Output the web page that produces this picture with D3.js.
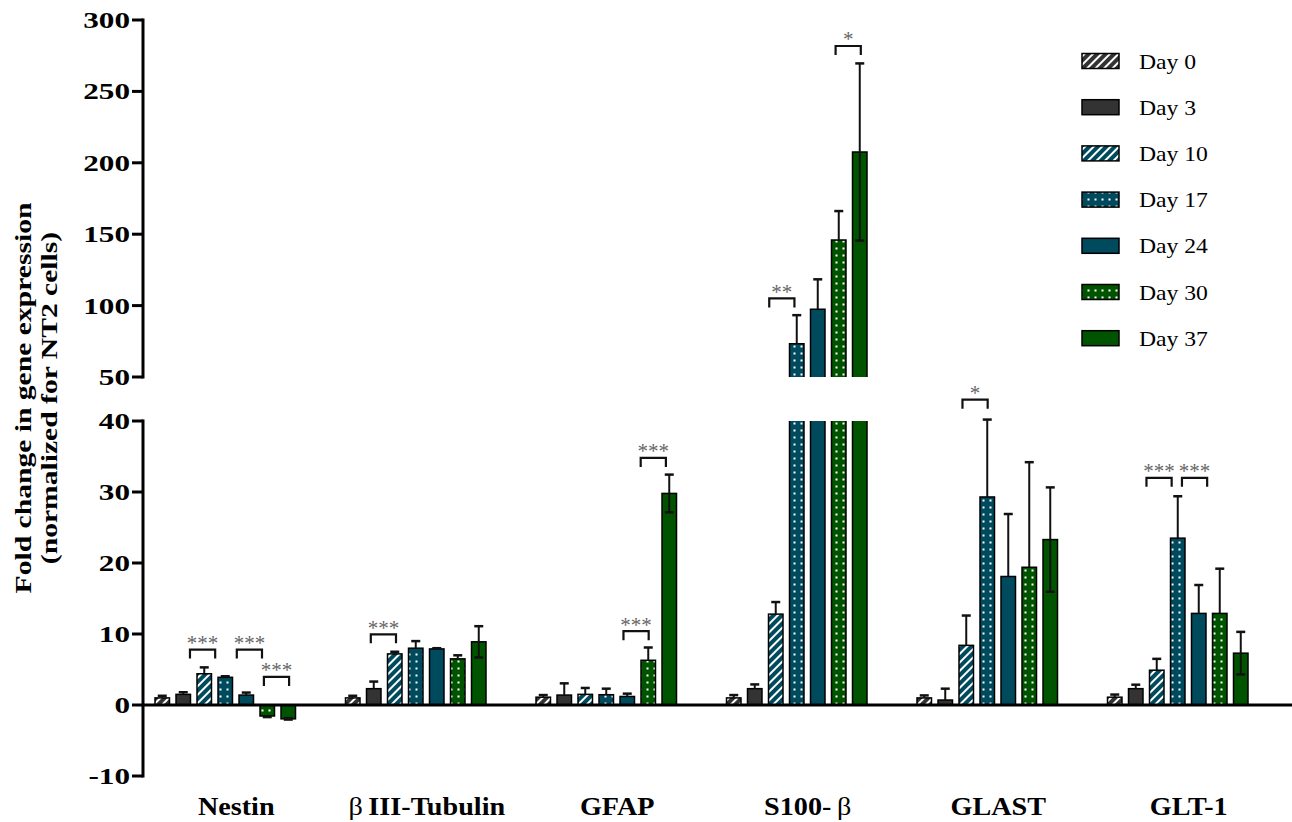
<!DOCTYPE html>
<html><head><meta charset="utf-8">
<script src="https://cdn.jsdelivr.net/npm/d3@7"></script>
<style>html,body{margin:0;padding:0;background:#fff;}svg{display:block;}</style>
</head><body>
<script>
// ---------- data ----------
const categories = ["Nestin", "βIII-Tubulin", "GFAP", "S100-β", "GLAST", "GLT-1"];
const days = ["Day 0", "Day 3", "Day 10", "Day 17", "Day 24", "Day 30", "Day 37"];

const day0  = [1.0, 1.0, 1.1, 1.0, 1.0, 1.1];
const day3  = [1.5, 2.3, 1.4, 2.3, 0.7, 2.3];
const day10 = [4.4, 7.2, 1.5, 12.8, 8.4, 4.9];
const day17 = [3.9, 8.0, 1.45, 73.3, 29.3, 23.5];
const day24 = [1.4, 7.9, 1.2, 97.4, 18.1, 12.9];
const day30 = [-1.55, 6.5, 6.3, 145.9, 19.4, 12.9];
const day37 = [-1.95, 8.9, 29.8, 207.6, 23.3, 7.3];

const err0  = [0.3, 0.3, 0.3, 0.4, 0.35, 0.37];
const err3  = [0.3, 1.0, 1.65, 0.6, 1.6, 0.56];
const err10 = [0.9, 0.3, 0.9, 1.7, 4.2, 1.6];
const err17 = [0.15, 1.0, 0.85, 20, 10.9, 5.9];
const err24 = [0.35, 0.1, 0.4, 21, 8.8, 4.0];
const err30 = [0.15, 0.5, 1.8, 20.3, 14.8, 6.3];
const err37 = [0.1, 2.2, 2.65, 62, 7.35, 3.0];

const upperTicks = [50, 100, 150, 200, 250, 300];
const lowerTicks = [-10, 0, 10, 20, 30, 40];

// significance brackets: category, position (in bar slots), level, label
const brackets = [
  {cat: "Nestin", pos: 1.92, level: 7.8, label: "***"},
  {cat: "Nestin", pos: 4.15, level: 7.8, label: "***"},
  {cat: "Nestin", pos: 5.44, level: 3.95, label: "***"},
  {cat: "βIII-Tubulin", pos: 1.46, level: 9.95, label: "***"},
  {cat: "GFAP", pos: 4.42, level: 10.4, label: "***"},
  {cat: "GFAP", pos: 5.24, level: 34.8, label: "***"},
  {cat: "S100-β", pos: 2.29, level: 105, label: "**"},
  {cat: "S100-β", pos: 5.45, level: 281.8, label: "*"},
  {cat: "GLAST", pos: 2.42, level: 43.0, label: "*"},
  {cat: "GLT-1", pos: 2.11, level: 32.0, label: "***"},
  {cat: "GLT-1", pos: 3.80, level: 32.0, label: "***"}
];

const values = [day0, day3, day10, day17, day24, day30, day37];
const errors = [err0, err3, err10, err17, err24, err30, err37];

// ---------- styles ----------
const GRAY = "#333333", TEAL = "#004a5e", GREEN = "#005400";
const fills = ["url(#hatchGray)", GRAY, "url(#hatchTeal)", "url(#dotTeal)", TEAL, "url(#dotGreen)", GREEN];
const SERIF = "'Liberation Serif','Times New Roman',serif";

const W = 1292, H = 822;
const svg = d3.select("body").append("svg").attr("width", W).attr("height", H);
const defs = svg.append("defs");

function hatch(id, bg) {
  const p = defs.append("pattern").attr("id", id).attr("patternUnits", "userSpaceOnUse")
    .attr("width", 6).attr("height", 6).attr("patternTransform", "rotate(45)");
  p.append("rect").attr("width", 6).attr("height", 6).attr("fill", bg);
  p.append("rect").attr("width", 2).attr("height", 6).attr("fill", "#fff");
}
function dots(id, bg) {
  const p = defs.append("pattern").attr("id", id).attr("patternUnits", "userSpaceOnUse")
    .attr("width", 7).attr("height", 7);
  p.append("rect").attr("width", 7).attr("height", 7).attr("fill", bg);
  p.append("rect").attr("x", 2.5).attr("y", 2.5).attr("width", 2).attr("height", 2).attr("fill", "#fff");
}
hatch("hatchGray", GRAY); hatch("hatchTeal", TEAL);
dots("dotTeal", TEAL); dots("dotGreen", GREEN);

// ---------- scales ----------
const x0 = d3.scaleBand().domain(categories).range([141, 141 + 6 * 190.5]);
const x1 = d3.scaleBand().domain(days).range([14, 154.5]).paddingInner(0.31).paddingOuter(0);
const yL = d3.scaleLinear().domain([-10, 40]).range([776, 421]);
const yU = d3.scaleLinear().domain([50, 300]).range([377, 20]);
const BREAK_LO = 40, BREAK_HI = 50;
const AX = 143;

function barCenter(cat, slot) {
  return x0(cat) + x1.range()[0] + x1.step() * slot + x1.bandwidth() / 2;
}

function stretchedText(g, x, y, sx, anchor, size, weight, str, rotate) {
  const t = g.append("g").attr("transform", `translate(${x},${y})` + (rotate ? ` rotate(${rotate})` : ""))
    .append("text").attr("transform", `scale(${sx},1)`)
    .attr("text-anchor", anchor).attr("font-family", SERIF)
    .attr("font-size", size).attr("font-weight", weight).attr("fill", "#000");
  return t;
}

// ---------- y axis ----------
const ax = svg.append("g");
ax.append("line").attr("x1", AX).attr("x2", AX).attr("y1", yU(300) - 1.5).attr("y2", yU(50) + 1.5)
  .attr("stroke", "#000").attr("stroke-width", 3);
ax.append("line").attr("x1", AX).attr("x2", AX).attr("y1", yL(40) - 1.5).attr("y2", yL(-10) + 1.5)
  .attr("stroke", "#000").attr("stroke-width", 3);
function ticks(scale, list) {
  list.forEach(v => {
    const y = scale(v);
    ax.append("line").attr("x1", AX - 11).attr("x2", AX).attr("y1", y).attr("y2", y)
      .attr("stroke", "#000").attr("stroke-width", 3);
    stretchedText(ax, 130, y + 8, 1.3, "end", 24, "bold").text(v);
  });
}
ticks(yU, upperTicks);
ticks(yL, lowerTicks);

// y title
const tg = svg.append("g");
stretchedText(tg, 31, 398, 1.26, "middle", 23.5, "bold", null, -90).text("Fold change in gene expression");
stretchedText(tg, 57, 398, 1.26, "middle", 23.5, "bold", null, -90).text("(normalized for NT2 cells)");

// ---------- bars ----------
const barsG = svg.append("g");
const errG = svg.append("g");
const frontG = svg.append("g");

function errBar(g, cx, yFrom, yTo) {
  g.append("line").attr("x1", cx).attr("x2", cx).attr("y1", yFrom).attr("y2", yTo)
    .attr("stroke", "#111").attr("stroke-width", 2);
  g.append("line").attr("x1", cx - 4.5).attr("x2", cx + 4.5).attr("y1", yTo).attr("y2", yTo)
    .attr("stroke", "#111").attr("stroke-width", 2.5);
}

days.forEach((d, di) => {
  categories.forEach((c, ci) => {
    const v = values[di][ci], e = errors[di][ci];
    const bx = x0(c) + x1(d), bw = x1.bandwidth();
    const cx = bx + bw / 2;
    if (v <= BREAK_LO) {
      const ya = yL(Math.max(v, 0)), yb = yL(Math.min(v, 0));
      barsG.append("rect").attr("x", bx).attr("y", ya).attr("width", bw).attr("height", yb - ya)
        .attr("fill", fills[di]).attr("stroke", "#000").attr("stroke-width", 1.5);
    } else {
      const yt = yL(BREAK_LO), y0 = yL(0);
      barsG.append("rect").attr("x", bx).attr("y", yt).attr("width", bw).attr("height", y0 - yt)
        .attr("fill", fills[di]);
      barsG.append("path").attr("d", `M${bx},${yt}V${y0}H${bx + bw}V${yt}`)
        .attr("fill", "none").attr("stroke", "#000").attr("stroke-width", 1.5);
      const yb = yU(BREAK_HI), yv = yU(v);
      barsG.append("rect").attr("x", bx).attr("y", yv).attr("width", bw).attr("height", yb - yv)
        .attr("fill", fills[di]);
      barsG.append("path").attr("d", `M${bx},${yb}V${yv}H${bx + bw}V${yb}`)
        .attr("fill", "none").attr("stroke", "#000").attr("stroke-width", 1.5);
    }
    const sgn = v >= 0 ? 1 : -1;
    const sc = v > BREAK_LO ? yU : yL;
    errBar(errG, cx, sc(v), sc(v + sgn * e));
    if (d === "Day 37") errBar(frontG, cx, sc(v), sc(v - sgn * e));
  });
});
barsG.lower();

// zero line
svg.append("line").attr("x1", AX).attr("x2", W).attr("y1", yL(0)).attr("y2", yL(0))
  .attr("stroke", "#000").attr("stroke-width", 3);
frontG.raise();

// ---------- brackets ----------
const brG = svg.append("g");
const bwid = x1.step() * 1.2;
brackets.forEach(b => {
  const cx = barCenter(b.cat, b.pos);
  const y = (b.level >= BREAK_HI && b.cat === "S100-β") ? yU(b.level) : yL(b.level);
  brG.append("path").attr("d", `M${cx - bwid / 2},${y + 9}V${y}H${cx + bwid / 2}V${y + 9}`)
    .attr("fill", "none").attr("stroke", "#111").attr("stroke-width", 2.2);
  brG.append("text").attr("x", cx).attr("y", y + 0.5).attr("text-anchor", "middle")
    .attr("font-family", SERIF).attr("font-size", 21).attr("fill", "#666").text(b.label);
});

// ---------- category labels ----------
const lg = svg.append("g");
categories.forEach(c => {
  const t = stretchedText(lg, x0(c) + x0.bandwidth() / 2, 815, 1.15, "middle", 24.5, "bold");
  const parts = c.split("β");
  parts.forEach((p, i) => {
    if (i > 0) {
      if (parts[i - 1]) t.append("tspan").text("\u2009");
      t.append("tspan").attr("font-weight", "normal").text("β");
      if (p) t.append("tspan").text("\u2009");
    }
    if (p) t.append("tspan").text(p);
  });
});

// ---------- legend ----------
const leg = svg.append("g");
days.forEach((d, i) => {
  const yc = 61 + i * 46.2;
  leg.append("rect").attr("x", 1082).attr("y", yc - 7.5).attr("width", 37).attr("height", 15)
    .attr("fill", fills[i]).attr("stroke", "#000").attr("stroke-width", 1.5);
  stretchedText(leg, 1139, yc + 7.5, 1.1, "start", 21.5, "normal").text(d);
});
</script>
</body></html>
